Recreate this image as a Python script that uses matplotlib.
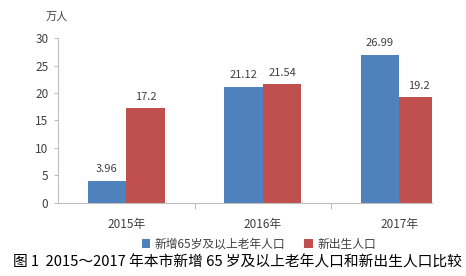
import numpy as np
import matplotlib
matplotlib.use("Agg")
import matplotlib.pyplot as plt

plt.rcParams['font.family'] = ['Noto Sans CJK SC', 'DejaVu Sans']

years = ["2015年", "2016年", "2017年"]
elderly = [3.96, 21.12, 26.99]
births = [17.2, 21.54, 19.2]
elderly_labels = ["3.96", "21.12", "26.99"]
births_labels = ["17.2", "21.54", "19.2"]
series_names = ["新增65岁及以上老年人口", "新出生人口"]
unit = "万人"
caption = "图 1  2015～2017 年本市新增 65 岁及以上老年人口和新出生人口比较"

blue = "#4F81BD"
red = "#C0504D"
txt = "#404040"
axc = "#BFBFBF"

fig = plt.figure(figsize=(4.66, 2.76), dpi=100)
ax = fig.add_axes([0.1245, 0.266, 0.8026, 0.596])

x = np.arange(len(years))
w = 0.283
b1 = ax.bar(x - w / 2, elderly, w, color=blue, label=series_names[0])
b2 = ax.bar(x + w / 2, births, w, color=red, label=series_names[1])

for xi, v, s in zip(x - w / 2, elderly, elderly_labels):
    ax.text(xi, v + 1.2, s, ha='center', va='bottom', fontsize=8, color=txt)
for xi, v, s in zip(x + w / 2, births, births_labels):
    ax.text(xi, v + 1.2, s, ha='center', va='bottom', fontsize=8, color=txt)

# the right edge of the plot cuts the last bar, as in the original
ax.set_xlim(-0.5, 2.24)
ax.set_ylim(0, 30)
ax.set_yticks(range(0, 31, 5))
ax.tick_params(axis='y', labelsize=8.5, colors=axc, labelcolor=txt, length=3, width=0.8, pad=4)
ax.set_xticks(x)
ax.set_xticklabels(years)
ax.set_xticks([0.5, 1.5], minor=True)
ax.tick_params(axis='x', which='major', length=0, labelsize=8.5, labelcolor=txt, pad=11)
ax.tick_params(axis='x', which='minor', length=4, color=axc, width=0.8)

for side in ['top', 'right']:
    ax.spines[side].set_visible(False)
for side in ['left', 'bottom']:
    ax.spines[side].set_color(axc)
    ax.spines[side].set_linewidth(0.8)

fig.text(0.097, 0.94, unit, fontsize=8, color=txt, ha='left', va='center')

fig.legend(handles=[b1, b2], loc='center', bbox_to_anchor=(0.556, 0.115), ncol=2,
           frameon=False, fontsize=8.5, handlelength=0.7, handleheight=0.7,
           handletextpad=0.4, columnspacing=1.6, labelcolor=txt)

fig.text(0.509, 0.048, caption, fontsize=10.6, color='black', ha='center', va='center')

fig.savefig("out.png", dpi=100)
